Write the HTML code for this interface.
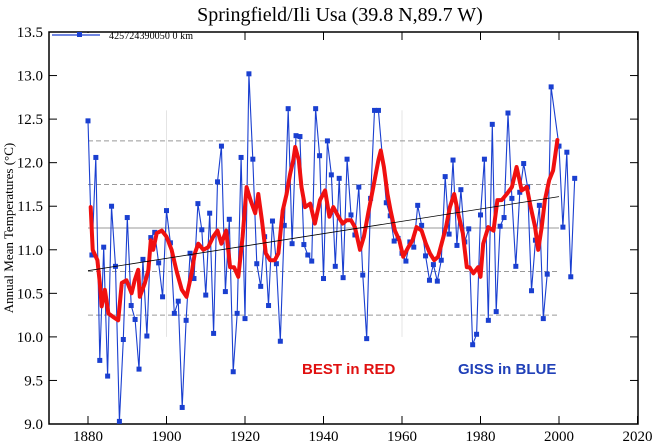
<!DOCTYPE html>
<html><head><meta charset="utf-8"><style>
html,body{margin:0;padding:0;background:#fff;}
svg{display:block;}
.tk{font-family:"Liberation Serif",serif;font-size:15px;fill:#000;}
</style></head><body>
<svg id="chart" width="657" height="444" viewBox="0 0 657 444" xmlns="http://www.w3.org/2000/svg">
<text x="340" y="21" text-anchor="middle" style="font-family:'Liberation Serif',serif;font-size:20px;">Springfield/Ili Usa (39.8 N,89.7 W)</text>
<text transform="translate(13,228) rotate(-90)" text-anchor="middle" style="font-family:'Liberation Serif',serif;font-size:13px;">Annual Mean Temperatures (°C)</text>
<g id="grid"></g>
<g id="axes"></g>
<g id="series"></g>
<g>
<rect x="50" y="33" width="150" height="8" fill="#fff"/>
<line x1="52" y1="35" x2="100" y2="35" stroke="#1a3fd0" stroke-width="1.2"/>
<rect x="77" y="32" width="5" height="5" fill="#1a3fd0"/>
<text x="109" y="39" textLength="84" style="font-family:'Liberation Serif',serif;font-size:10px;">425724390050 0 km</text>
</g>
<text x="302" y="374" style="font-family:'Liberation Sans',sans-serif;font-size:15px;font-weight:bold;fill:#e01010;">BEST in RED</text>
<text x="458" y="374" style="font-family:'Liberation Sans',sans-serif;font-size:15px;font-weight:bold;fill:#2040b8;">GISS in BLUE</text>
</svg>
<script>
const xTicks=[1880,1900,1920,1940,1960,1980,2000,2020];
const yTicks=[9.0,9.5,10.0,10.5,11.0,11.5,12.0,12.5,13.0,13.5];
const gridLevels=[10.25,10.75,11.25,11.75,12.25];
const gissYears=[1880,1881,1882,1883,1884,1885,1886,1887,1888,1889,1890,1891,1892,1893,1894,1895,1896,1897,1898,1899,1900,1901,1902,1903,1904,1905,1906,1907,1908,1909,1910,1911,1912,1913,1914,1915,1916,1917,1918,1919,1920,1921,1922,1923,1924,1925,1926,1927,1928,1929,1930,1931,1932,1933,1934,1935,1936,1937,1938,1939,1940,1941,1942,1943,1944,1945,1946,1947,1948,1949,1950,1951,1952,1953,1954,1956,1957,1958,1959,1960,1961,1962,1963,1964,1965,1966,1967,1968,1969,1970,1971,1972,1973,1974,1975,1976,1977,1978,1979,1980,1981,1982,1983,1984,1985,1986,1987,1988,1989,1990,1991,1992,1993,1994,1995,1996,1997,1998,2000,2001,2002,2003,2004];
const gissTemps=[12.48,10.94,12.06,9.73,11.03,9.55,11.50,10.81,9.03,9.97,11.37,10.36,10.20,9.63,10.89,10.01,11.14,11.20,10.85,10.46,11.45,11.08,10.27,10.41,9.19,10.19,10.96,10.67,11.53,11.23,10.48,11.42,10.04,11.78,12.19,10.52,11.35,9.60,10.27,12.06,10.21,13.02,12.04,10.84,10.58,11.15,10.36,11.33,10.84,9.95,11.28,12.62,11.07,12.31,12.30,11.06,10.94,10.87,12.62,12.08,10.67,12.25,11.86,10.81,11.82,10.68,12.04,11.40,11.17,11.72,10.71,9.98,11.59,12.60,12.60,11.54,11.39,11.10,11.13,10.96,10.87,11.09,11.03,11.51,11.28,10.93,10.65,10.83,10.64,10.88,11.84,11.18,12.03,11.05,11.69,11.09,11.24,9.91,10.03,11.40,12.04,10.19,12.44,10.29,11.27,11.37,12.57,11.59,10.81,11.66,11.99,11.72,10.53,11.11,11.51,10.21,10.72,12.87,12.19,11.26,12.12,10.69,11.82];
const bestYears=[1880.7,1881.2,1882.4,1883,1883.5,1884.3,1885.2,1886.4,1887.7,1888.6,1889.8,1891.1,1891.9,1892.8,1893.2,1894.5,1895.4,1896,1896.6,1897.5,1898.8,1900,1901.3,1902.6,1903.9,1905.1,1906.4,1907.2,1908.1,1909.4,1910.6,1911.9,1913,1914,1915.2,1916.2,1917.2,1918.3,1919.4,1920.4,1921.4,1922.6,1923.4,1924.3,1925.3,1926.4,1927.6,1928.5,1929.6,1930.6,1931.5,1932.3,1932.8,1933.7,1934.4,1935.3,1936.6,1937.8,1939.1,1940.4,1941.5,1942.5,1943.8,1944.9,1945.9,1947,1948,1949.3,1950.3,1951.4,1952.7,1954,1954.6,1955.4,1956.3,1957.1,1958.2,1959.3,1960.3,1961.6,1962.7,1963.7,1965,1966.1,1967.1,1968.2,1969.2,1970.1,1971.2,1972.2,1973.3,1974.3,1975.5,1976.5,1977.2,1978.2,1979.4,1980,1980.7,1982,1983.3,1984.3,1985.4,1986.7,1988,1989.2,1990.5,1991.8,1992.8,1993.9,1994.7,1995.6,1996.4,1997.5,1998.5,1999.6];
const bestTemps=[11.49,11.0,10.88,10.62,10.35,10.54,10.27,10.23,10.19,10.62,10.65,10.5,10.65,10.77,10.46,10.62,10.77,11.11,11.0,11.19,11.22,11.15,11.0,10.75,10.54,10.46,10.73,10.96,11.07,11.0,11.03,11.15,11.22,11.07,11.22,10.8,10.8,10.69,11.15,11.72,11.57,11.42,11.64,11.34,10.96,10.88,10.88,10.96,11.45,11.64,11.87,12.03,12.18,12.03,11.72,11.49,11.53,11.30,11.57,11.68,11.38,11.49,11.38,11.30,11.34,11.34,11.26,11.0,11.15,11.42,11.72,12.03,12.14,11.95,11.64,11.45,11.22,11.11,10.92,11.03,11.11,11.26,11.22,11.07,10.96,10.88,10.92,11.07,11.26,11.49,11.64,11.42,11.19,10.80,10.80,10.73,10.80,10.69,11.07,11.26,11.22,11.57,11.57,11.64,11.72,11.95,11.68,11.72,11.49,11.26,11.0,11.26,11.57,11.80,11.91,12.26];
const trendYears=[1880,2000];
const trendTemps=[10.76,11.61];

const NS='http://www.w3.org/2000/svg';
const L=49,R=638,T=32,B=424;
function xs(y){return 88+(y-1880)*3.925;}
function ys(v){return B-(v-9.0)*(B-T)/4.5;}
function mk(tag,attrs,parent){const e=document.createElementNS(NS,tag);for(const k in attrs)e.setAttribute(k,attrs[k]);parent.appendChild(e);return e;}
const grid=document.getElementById('grid'),axes=document.getElementById('axes'),series=document.getElementById('series');

[1900,1960].forEach(yr=>{
  const v=mk('line',{x1:xs(yr),x2:xs(yr),y1:ys(12.6),y2:ys(10.0),stroke:'#e4e4e4','stroke-width':1},grid);
  
  
});
gridLevels.forEach(g=>{
  const l=mk('line',{x1:xs(1880),x2:xs(2000),y1:ys(g),y2:ys(g),stroke:'#999','stroke-width':1,'stroke-dasharray':g===11.25?'none':'5,3'},grid);
  
  
});

const frame=mk('rect',{x:L,y:T,width:R-L,height:B-T,fill:'none',stroke:'#000','stroke-width':1.5},axes);


xTicks.forEach(t=>{
  const x=xs(t);
  mk('line',{x1:x,x2:x,y1:B,y2:B-8,stroke:'#000','stroke-width':1},axes);
  mk('line',{x1:x,x2:x,y1:T,y2:T+8,stroke:'#000','stroke-width':1},axes);
  const lb=mk('text',{x:x,y:441,'text-anchor':'middle',class:'tk'},axes);
  lb.textContent=t;
  
  
});
yTicks.forEach(t=>{
  const y=ys(t);
  mk('line',{x1:L,x2:L+8,y1:y,y2:y,stroke:'#000','stroke-width':1},axes);
  mk('line',{x1:R,x2:R-8,y1:y,y2:y,stroke:'#000','stroke-width':1},axes);
  const lb=mk('text',{x:43,y:y+5,'text-anchor':'end',class:'tk'},axes);
  lb.textContent=t.toFixed(1);
  
  
});

const gp=gissYears.map((y,i)=>xs(y).toFixed(1)+','+ys(gissTemps[i]).toFixed(1)).join(' ');
const gl=mk('polyline',{points:gp,fill:'none',stroke:'#1a3fd0','stroke-width':1.1},series);


gissYears.forEach((y,i)=>{
  const p=mk('rect',{x:xs(y)-2.5,y:ys(gissTemps[i])-2.5,width:5,height:5,fill:'#1a3fd0'},series);
  
  
});
const bp=bestYears.map((y,i)=>xs(y).toFixed(1)+','+ys(bestTemps[i]).toFixed(1)).join(' ');
const bl=mk('polyline',{points:bp,fill:'none',stroke:'#f01010','stroke-width':4,'stroke-linejoin':'round','stroke-linecap':'round'},series);


const tl=mk('line',{x1:xs(trendYears[0]),y1:ys(trendTemps[0]),x2:xs(trendYears[1]),y2:ys(trendTemps[1]),stroke:'#000','stroke-width':0.8},series);


</script>
</body></html>
